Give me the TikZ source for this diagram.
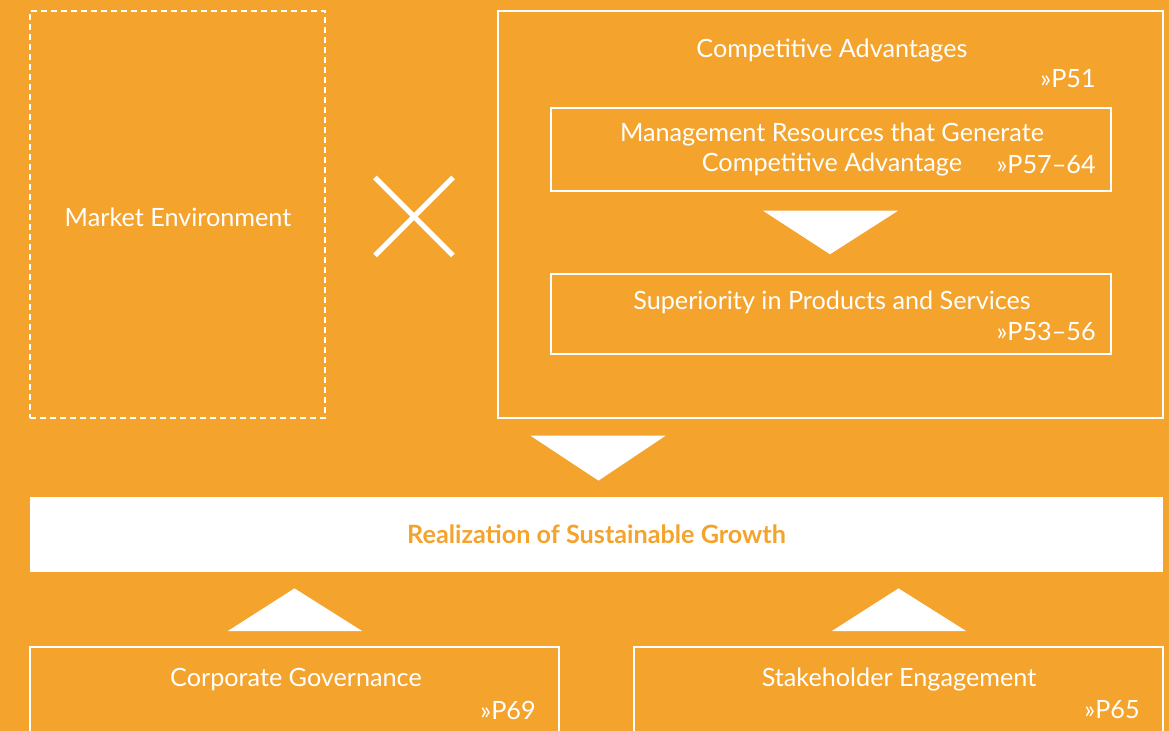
\documentclass[tikz,border=0pt]{standalone}
\usepackage{fontspec}
\setmainfont{Lato}
\usetikzlibrary{positioning,calc}
\definecolor{bgorange}{RGB}{244,163,45}

\begin{document}
\begin{tikzpicture}[x=0.5pt, y=-0.5pt,
    frame/.style={draw=white, line width=0.75pt, inner sep=0pt},
    txt/.style={text=white, font=\fontsize{12.6}{15}\selectfont, align=center, inner sep=0pt},
    pageref/.style={txt, anchor=east},
    wedge/.style={fill=white}
  ]
    % background and page size
    \fill[bgorange] (0,0) rectangle (1169,731);
    \useasboundingbox (0,0) rectangle (1169,731);
    \clip (0,0) rectangle (1169,731);

    % left: market
    \node[frame, dashed, dash pattern=on 3pt off 2pt, minimum width=147.5pt, minimum height=203.5pt] (market) at (177.5,214.5) {};
    \node[txt] (markettitle) at (178,217) {Market Environment};
    \coordinate (times) at (414,216.5);
    \draw[white, line width=2.5pt] ($(times)+(-39,-39)$) -- ($(times)+(39,39)$)
                                   ($(times)+(-39,39)$) -- ($(times)+(39,-39)$);

    % right: competitive advantages
    \node[frame, minimum width=332.5pt, minimum height=203.5pt] (comp) at (830.5,214.5) {};
    \node[txt] (comptitle) at (832,51) {Competitive Advantages};
    \node[pageref] (compref) at (1096,79) {»P51};

    \node[frame, minimum width=280pt, minimum height=41.5pt] (mgmt) at (831,149.5) {};
    \node[txt] (mgmttitle) at (832,149.5) {Management Resources that Generate\\Competitive Advantage};
    \node[pageref] (mgmtref) at (1096,164.5) {»P57--64};

    \node[frame, minimum width=280pt, minimum height=40pt] (sup) at (831,314) {};
    \node[txt] (suptitle) at (832,302.5) {Superiority in Products and Services};
    \node[pageref] (supref) at (1096,331) {»P53--56};

    \fill[wedge] ($(mgmt.south)+(-68,19)$) -- ($(mgmt.south)+(67,19)$) -- ($(sup.north)+(-1,-19)$) -- cycle;

    % goal bar
    \node[fill=white, minimum width=566.5pt, minimum height=37.5pt, inner sep=0pt,
          text=bgorange, font=\fontsize{12.6}{15}\selectfont\bfseries] (bar) at (596.5,534.5)
      {Realization of Sustainable Growth};
    \fill[wedge] ($(bar.north |- comp.south)+(-66,17)$) -- ($(bar.north |- comp.south)+(69,17)$)
                 -- ($(bar.north)+(2,-16)$) -- cycle;

    % bottom: foundations
    \node[frame, minimum width=264.5pt, minimum height=49pt] (gov) at (294.5,696) {};
    \node[txt] (govtitle) at (296,679.5) {Corporate Governance};
    \node[pageref] (govref) at (536,710) {»P69};

    \node[frame, minimum width=264.5pt, minimum height=49pt] (stake) at (898.5,696) {};
    \node[txt] (staketitle) at (899,679.5) {Stakeholder Engagement};
    \node[pageref] (stakeref) at (1140,710) {»P65};

    \fill[wedge] ($(gov.north)+(-67,-15)$) -- ($(gov.north)+(68,-15)$) -- ($(bar.south -| gov.north)+(0,16)$) -- cycle;
    \fill[wedge] ($(stake.north)+(-67,-15)$) -- ($(stake.north)+(68,-15)$) -- ($(bar.south -| stake.north)+(0,16)$) -- cycle;
\end{tikzpicture}
\end{document}
